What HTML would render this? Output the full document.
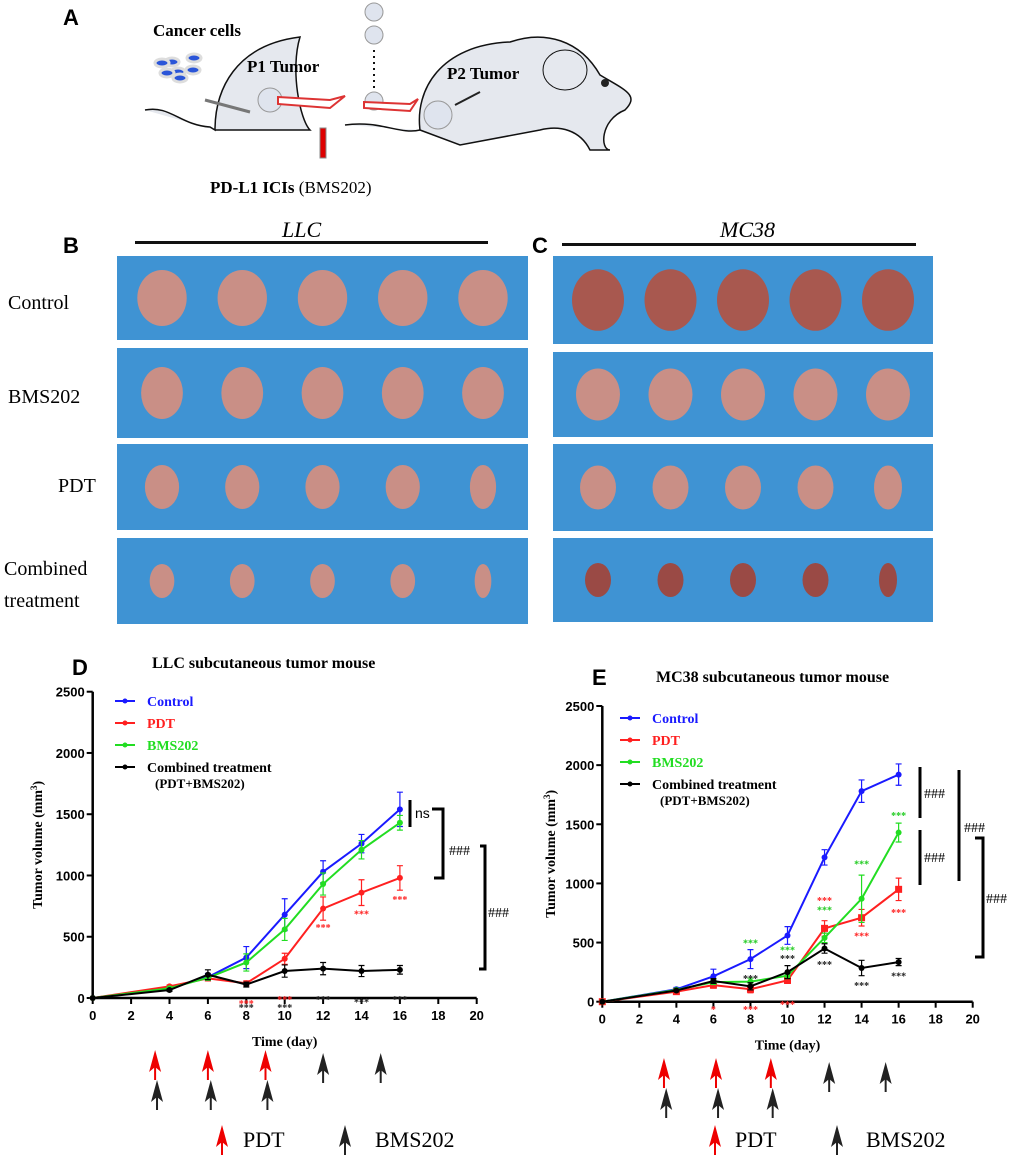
<!DOCTYPE html>
<html><head><meta charset="utf-8"><style>
body{margin:0;background:#fff}
svg{display:block;font-family:"Liberation Serif",serif}
.sans{font-family:"Liberation Sans",sans-serif}
</style></head><body>
<svg id="fig" width="1020" height="1163" viewBox="0 0 1020 1163" xmlns="http://www.w3.org/2000/svg">
<g>
<text x="63" y="25" class="sans" font-size="22" font-weight="bold">A</text>
<text x="153" y="36" font-size="17" font-weight="bold">Cancer cells</text>
<g fill="#2a55d8" stroke="#ddd" stroke-width="3"><ellipse cx="172" cy="62" rx="7" ry="4"/><ellipse cx="194" cy="58" rx="7" ry="4"/><ellipse cx="162" cy="63" rx="7" ry="4"/><ellipse cx="178" cy="72" rx="7" ry="4"/><ellipse cx="193" cy="70" rx="7" ry="4"/><ellipse cx="167" cy="73" rx="7" ry="4"/><ellipse cx="180" cy="78" rx="7" ry="4"/></g>
<path d="M145,110 C170,105 180,125 210,127 L215,130 C215,90 235,45 300,37 C290,70 300,120 310,130 L215,130" fill="#e5e8ee" stroke="#111" stroke-width="1.5"/>
<path d="M205,100 L250,112" stroke="#777" stroke-width="3"/>
<circle cx="270" cy="100" r="12" fill="#dfe4ee" stroke="#999"/>
<text x="247" y="72" font-size="17" font-weight="bold">P1 Tumor</text>
<path d="M278,97 L330,100 L345,96 L330,108 L278,104Z" fill="#fff" stroke="#d33" stroke-width="2"/>
<rect x="320" y="128" width="6" height="30" fill="#d00" stroke="#888"/>
<circle cx="374" cy="12" r="9" fill="#dfe4ee" stroke="#999"/><circle cx="374" cy="35" r="9" fill="#dfe4ee" stroke="#999"/><circle cx="374" cy="101" r="9" fill="#dfe4ee" stroke="#999"/>
<path d="M374,50 L374,90" stroke="#111" stroke-width="2" stroke-dasharray="2 4"/>
<path d="M364,102 L410,104 L418,99 L410,111 L364,108Z" fill="#fff" stroke="#d33" stroke-width="2"/>
<path d="M345,125 C380,120 400,135 420,130 C415,90 440,45 510,42 C545,30 580,40 600,75 C625,90 640,95 625,110 C600,120 600,150 610,150 L590,150 C580,130 560,125 540,130 L460,145 L420,130" fill="#e5e8ee" stroke="#111" stroke-width="1.5"/>
<ellipse cx="565" cy="70" rx="22" ry="20" fill="#e5e8ee" stroke="#111"/>
<circle cx="605" cy="83" r="4" fill="#222"/>
<circle cx="438" cy="115" r="14" fill="#dfe4ee" stroke="#999"/>
<path d="M455,105 L480,92" stroke="#222" stroke-width="2"/>
<text x="447" y="79" font-size="17" font-weight="bold">P2 Tumor</text>
<text x="210" y="193" font-size="17"><tspan font-weight="bold">PD-L1 ICIs</tspan> (BMS202)</text>
</g>
<g>
<text x="63" y="253" class="sans" font-size="22" font-weight="bold">B</text>
<text x="282" y="237" font-size="22" font-style="italic">LLC</text>
<rect x="135" y="241" width="353" height="3" fill="#111"/>
<text x="8" y="309" font-size="20">Control</text>
<text x="8" y="403" font-size="20">BMS202</text>
<text x="58" y="492" font-size="20">PDT</text>
<text x="4" y="575" font-size="20">Combined</text>
<text x="4" y="607" font-size="20">treatment</text>
</g>
<g>
<text x="532" y="253" class="sans" font-size="22" font-weight="bold">C</text>
<text x="720" y="237" font-size="22" font-style="italic">MC38</text>
<rect x="562" y="243" width="354" height="3" fill="#111"/>
</g>
<g id="photos"></g>
<g id="chartD"></g>
<g id="chartE"></g>
</svg>
<script>
const days=[0,4,6,8,10,12,14,16];
const ticksX=[0,2,4,6,8,10,12,14,16,18,20];
const ticksY=[0,500,1000,1500,2000,2500];
const seriesNames=["Control","PDT","BMS202","Combined treatment"];
const dControl=[0,80,170,330,680,1030,1260,1540];
const dPDT=[0,95,160,120,320,730,860,980];
const dBMS=[0,80,165,290,560,930,1210,1430];
const dComb=[0,65,190,110,220,240,220,230];
const dErr=[[0,10,30,90,130,90,75,140],[0,10,20,20,45,95,105,100],[0,10,20,70,90,90,75,60],[0,10,40,20,50,50,45,35]];
const eControl=[0,105,215,360,560,1220,1780,1920];
const ePDT=[0,85,140,105,180,620,710,950];
const eBMS=[0,100,165,170,220,540,870,1430];
const eComb=[0,95,175,130,250,450,285,335];
const eErr=[[0,15,60,80,75,65,95,90],[0,10,25,30,25,65,70,95],[0,10,20,30,25,40,200,80],[0,10,20,30,55,40,65,30]];
const NS="http://www.w3.org/2000/svg";
function mk(p,t,a){const e=document.createElementNS(NS,t);for(const k in a)e.setAttribute(k,a[k]);p.appendChild(e);return e;}
const svg=document.getElementById('fig');
const ph=document.getElementById('photos');
const rowsB=[[256,340],[348,438],[444,530],[538,624]],rowsC=[[256,344],[352,437],[444,531],[538,622]];
const sizes=[[26,28],[22,26],[18,22],[13,17]];
[[117,528,rowsB],[553,933,rowsC]].forEach(([x0,x1,rows],pi)=>{rows.forEach((r,ri)=>{
 const rc=mk(ph,'rect',{x:x0,y:r[0],width:x1-x0,height:r[1]-r[0],fill:'#3f93d3'});
 
 
 for(let i=0;i<5;i++){const cx=x0+45+i*(x1-x0-90)/4;const s=sizes[ri];
  const el=mk(ph,'ellipse',{cx:cx,cy:(r[0]+r[1])/2,rx:s[0]*(pi?1:0.95)-(i==4&&ri>1?4:0),ry:s[1]*(pi&&ri==0?1.1:1),fill:ri==3&&pi?'#9a4a45':(pi&&ri==0?'#a8584f':'#c98f86')});
  
  }
});});
function arrow(p,x,tip,c){
 mk(p,'path',{d:`M${x-6},${tip+22} L${x},${tip} L${x+6},${tip+22} L${x},${tip+17}Z`,fill:c});
 mk(p,'line',{x1:x,x2:x,y1:tip+17,y2:tip+30,stroke:c,'stroke-width':2});
}
function chart(gid,o){
 const g=document.getElementById(gid);
 const X=v=>o.x0+v*(o.x1-o.x0)/20, Y=v=>o.y0-v*(o.y0-o.y1)/2500;
 const t=mk(g,'text',{x:o.tx,y:o.ty,'font-size':16,'font-weight':'bold'});t.textContent=o.title;
 const L=mk(g,'text',{x:o.lx,y:o.ly,'font-size':22,'font-weight':'bold',class:'sans'});L.textContent=o.label;
 mk(g,'path',{d:`M${X(0)},${Y(2500)} L${X(0)},${Y(0)} L${X(20)},${Y(0)}`,fill:'none',stroke:'#000','stroke-width':2.5});
 ticksY.forEach(v=>{mk(g,'line',{x1:X(0)-6,x2:X(0),y1:Y(v),y2:Y(v),stroke:'#000','stroke-width':2});
  const tt=mk(g,'text',{x:X(0)-8,y:Y(v)+5,'font-size':13,'font-weight':'bold','text-anchor':'end',class:'sans'});tt.textContent=v;
  
  });
 ticksX.forEach(v=>{mk(g,'line',{x1:X(v),x2:X(v),y1:Y(0),y2:Y(0)+6,stroke:'#000','stroke-width':2});
  const tt=mk(g,'text',{x:X(v),y:Y(0)+22,'font-size':13,'font-weight':'bold','text-anchor':'middle',class:'sans'});tt.textContent=v;
  
  });
 const xt=mk(g,'text',{x:X(10),y:Y(0)+48,'font-size':14,'font-weight':'bold','text-anchor':'middle'});xt.textContent='Time (day)';
 
 
 const yt=mk(g,'text',{transform:`translate(${o.ytx},${(Y(0)+Y(2500))/2}) rotate(-90)`,'font-size':14,'font-weight':'bold','text-anchor':'middle'});
 yt.innerHTML='Tumor volume (mm<tspan dy="-5" font-size="9">3</tspan><tspan dy="5">)</tspan>';
 
 
 const cols=['#1a1aff','#ff2020','#22dd22','#000'];
 o.data.forEach((d,si)=>{
  const pts=d.map((v,i)=>X(days[i])+','+Y(v)).join(' ');
  const pl=mk(g,'polyline',{points:pts,fill:'none',stroke:cols[si],'stroke-width':2});
  
  
  d.forEach((v,i)=>{const e=o.err[si][i];if(e){mk(g,'path',{d:`M${X(days[i])},${Y(v-e)} V${Y(v+e)} M${X(days[i])-3},${Y(v+e)} h6 M${X(days[i])-3},${Y(v-e)} h6`,stroke:cols[si],'stroke-width':1.2});}
   const m=mk(g,o.marker[si],o.marker[si]=='rect'?{x:X(days[i])-3.5,y:Y(v)-3.5,width:7,height:7,fill:cols[si]}:{cx:X(days[i]),cy:Y(v),r:3,fill:cols[si]});
   
   });
 });
 seriesNames.forEach((n,si)=>{const yy=o.legY+si*22;
  mk(g,'line',{x1:o.legX,x2:o.legX+20,y1:yy,y2:yy,stroke:cols[si],'stroke-width':2});
  mk(g,'circle',{cx:o.legX+10,cy:yy,r:2.5,fill:cols[si]});
  const lt=mk(g,'text',{x:o.legX+32,y:yy+5,'font-size':14,'font-weight':'bold',fill:cols[si]});lt.textContent=n;
  
  });
 const l2=mk(g,'text',{x:o.legX+40,y:o.legY+3*22+21,'font-size':13,'font-weight':'bold'});l2.textContent='(PDT+BMS202)';
 o.stars.forEach(s=>{const st=mk(g,'text',{x:X(s[0]),y:Y(s[1])+4,'font-size':10,'font-weight':'bold',fill:s[2],'text-anchor':'middle'});st.textContent=s[3]||'***';});
 o.brackets.forEach(b=>mk(g,'path',{d:b,fill:'none',stroke:'#000','stroke-width':3}));
 o.bl.forEach(b=>{const bt=mk(g,'text',{x:b[0],y:b[1],'font-size':14,class:b[3]||''});bt.textContent=b[2];});
 o.arrows.forEach(a=>arrow(g,X(a[0]),a[1],a[2]));
}
chart('chartD',{x0:92.7,x1:476.7,y0:998,y1:691.7,title:'LLC subcutaneous tumor  mouse',tx:152,ty:668,label:'D',lx:72,ly:675,ytx:42,
 data:[dControl,dPDT,dBMS,dComb],err:dErr,marker:['circle','circle','circle','circle'],legX:115,legY:701,
 stars:[[8,-40,'#f22'],[8,-75,'#222'],[10,-75,'#222'],[10,-10,'#f22'],[12,-8,'#222'],[14,-30,'#222'],[16,-8,'#222'],[12,580,'#f22'],[14,690,'#f22'],[16,810,'#f22']],
 brackets:['M410,800 V827','M432,809 H443 V878 H434','M480,846 H485 V969 H479'],
 bl:[[415,818,'ns','sans'],[449,855,'###'],[488,917,'###']],
 arrows:[[3.25,1050,'#e00'],[6,1050,'#e00'],[9,1050,'#e00'],[3.35,1080,'#222'],[6.15,1080,'#222'],[9.1,1080,'#222'],[12,1053,'#222'],[15,1053,'#222']]});
chart('chartE',{x0:602.3,x1:972.7,y0:1001.7,y1:706,title:'MC38 subcutaneous tumor mouse',tx:656,ty:682,label:'E',lx:592,ly:685,ytx:555,
 data:[eControl,ePDT,eBMS,eComb],err:eErr,marker:['circle','rect','circle','circle'],legX:620,legY:718,
 stars:[[6,-60,'#f22','*'],[8,200,'#222'],[8,-60,'#f22'],[8,500,'#2c2'],[10,440,'#2c2'],[10,370,'#222'],[10,-20,'#f22'],[12,860,'#f22'],[12,780,'#2c2'],[12,320,'#222'],[14,1170,'#2c2'],[14,560,'#f22'],[14,140,'#222'],[16,1580,'#2c2'],[16,760,'#f22'],[16,220,'#222']],
 brackets:['M920,767 V818','M920,830 V885','M959,770 V881','M975,838 H983 V957 H975'],
 bl:[[924,798,'###'],[924,862,'###'],[964,832,'###'],[986,903,'###']],
 arrows:[[3.33,1058,'#e00'],[6.14,1058,'#e00'],[9.1,1058,'#e00'],[3.45,1088,'#222'],[6.25,1088,'#222'],[9.2,1088,'#222'],[12.25,1062,'#222'],[15.3,1062,'#222']]});
[[222,243,345,375],[715,735,837,866]].forEach(p=>{
 arrow(svg,p[0],1125,'#e00');
 const a=mk(svg,'text',{x:p[1],y:1147,'font-size':22});a.textContent='PDT';
 
 
 arrow(svg,p[2],1125,'#222');
 const b=mk(svg,'text',{x:p[3],y:1147,'font-size':22});b.textContent='BMS202';
 
 
});
</script>
</body></html>
